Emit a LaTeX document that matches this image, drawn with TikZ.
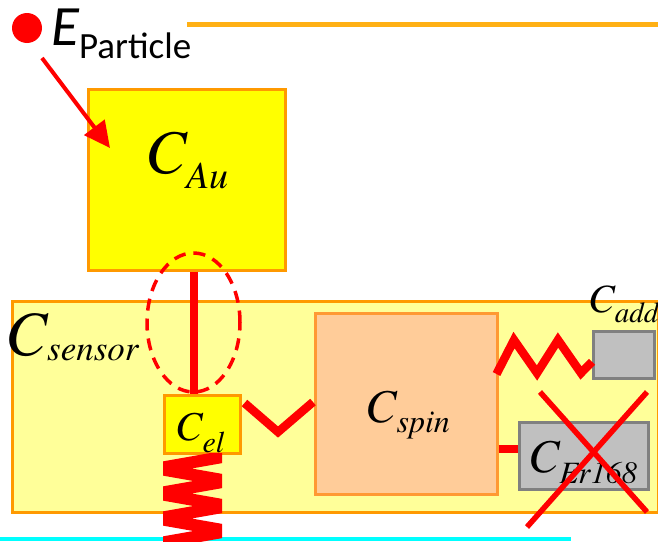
\documentclass[tikz,border=0pt]{standalone}
\usepackage{fontspec}
\newfontfamily\timesfont{TeX Gyre Termes}
\newfontfamily\carlfont{Carlito}
\usetikzlibrary{arrows.meta,calc}
\definecolor{boxorange}{RGB}{255,153,0}
\definecolor{ybright}{RGB}{255,255,0}
\definecolor{ylight}{RGB}{255,255,153}
\definecolor{peach}{RGB}{255,204,153}
\definecolor{peachline}{RGB}{255,153,51}
\definecolor{grayfill}{RGB}{192,192,192}
\definecolor{grayline}{RGB}{128,128,128}
\definecolor{goldline}{RGB}{255,176,20}
\definecolor{cyanline}{RGB}{0,255,255}
\newcommand\caplabel[4]{{\timesfont\fontsize{#1}{#1}\selectfont\itshape C\raisebox{-#4pt}{\fontsize{#2}{#2}\selectfont #3}}}
\begin{document}
\begin{tikzpicture}[x=1pt,y=-1pt,
  box/.style={draw, line width=2.5pt, inner sep=0pt, anchor=north west},
  ybox/.style={box, draw=boxorange, fill=ybright},
  gbox/.style={box, draw=grayline, fill=grayfill},
  lbl/.style={inner sep=0pt, anchor=base west},
  wire/.style={draw=red, line join=miter}]
\useasboundingbox (0,0) rectangle (658,541);
\draw[goldline, line width=5.5pt] (187,24.5) -- (658,24.5);
\node[box, draw=boxorange, fill=ylight, minimum width=646pt, minimum height=211pt] (sensor) at (11,300) {};
\node[ybox, minimum width=197pt, minimum height=181pt] (au) at (87,88) {};
\node[ybox, minimum width=76pt, minimum height=58pt] (el) at (163,394) {};
\node[box, draw=peachline, fill=peach, minimum width=182pt, minimum height=181pt] (spin) at (314,312) {};
\node[gbox, minimum width=61pt, minimum height=47pt] (add) at (592,330) {};
\node[gbox, minimum width=129pt, minimum height=67pt] (er) at (518,421) {};
\draw[cyanline, line width=3.5pt] (0,539) -- (571,539);
\node[circle, fill=red, minimum size=30pt, inner sep=0pt] (dot) at (27,28) {};
\coordinate (astart) at (42,58);
\coordinate (atip) at (110,148);
\draw[red, line width=4pt, -{Triangle[length=26pt,width=25pt]}] (astart) -- (atip);
\node[lbl] (elbl) at (51,45) {\carlfont\fontsize{57}{57}\selectfont\itshape E\raisebox{-13pt}{\fontsize{37}{37}\selectfont\upshape Particle}};
\draw[wire, line width=8pt] ([xshift=7.5pt]au.south) -- ([xshift=-8pt]el.north);
\draw[red, line width=3.5pt, dash pattern=on 12pt off 8pt] (193.5,322.5) ellipse [x radius=46.5pt, y radius=69.5pt];
\draw[wire, line width=8.5pt] ($(el.north east)+(3,9)$) -- (278,432) -- ($(spin.north west)+(-1,90)$);
\begin{scope}
\clip (163,453) rectangle (222,545);
\draw[wire, line width=12pt] (228,456) -- (157,468.5) -- (228,481) -- (157,493.5) -- (228,506) -- (157,518.5) -- (228,531) -- (157,543.5) -- (228,556);
\end{scope}
\draw[wire, line width=8.5pt] ($(spin.north east)+(-2,62)$) -- (514,340) -- (537,373) -- (558,340) -- (581,373) -- ($(add.west)+(0,7)$);
\draw[wire, line width=7.5pt] ($(spin.north east)+(0,137)$) -- ($(er.north west)+(0,28)$);
\node[lbl] (lau) at (145,173) {\caplabel{62}{38}{Au}{15}};
\node[lbl] (lsensor) at (5,355) {\caplabel{63}{35}{sensor}{5}};
\node[lbl] (lel) at (175,440) {\caplabel{41}{30}{el}{12}};
\node[lbl] (lspin) at (365,422) {\caplabel{47}{32}{spin}{10}};
\node[lbl] (ladd) at (588,312) {\caplabel{40}{29}{add}{10}};
\node[lbl] (ler) at (528,472) {\caplabel{47}{31}{Er168}{11}};
\draw[red, line width=5.5pt] (540,392) -- (647,512);
\draw[red, line width=5.5pt] (647,392) -- (527,527);
\end{tikzpicture}
\end{document}
